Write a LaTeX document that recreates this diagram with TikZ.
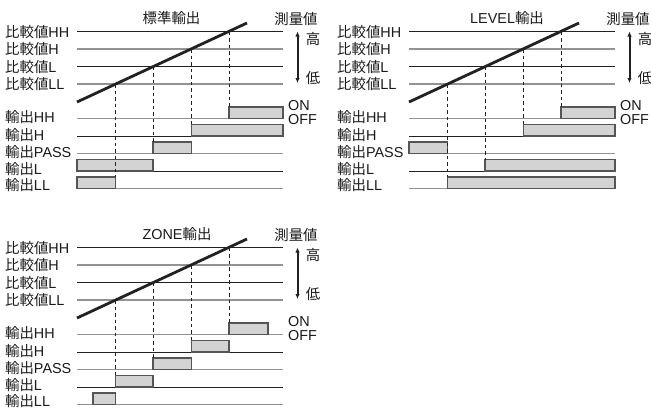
\documentclass[tikz,border=0pt]{standalone}
\usepackage{fontspec}
\setmainfont{Liberation Sans}
\newfontfamily\cjkfont{Noto Sans CJK JP}
\newcommand\cj[1]{{\cjkfont #1}}
\usetikzlibrary{arrows.meta}
\definecolor{lineblk}{HTML}{222222}
\definecolor{linegry}{HTML}{939393}
\definecolor{boxfill}{HTML}{D3D3D3}
\definecolor{boxedge}{HTML}{555555}
\definecolor{txt}{HTML}{1A1A1A}
\tikzset{
  lbl/.style={anchor=west, inner sep=0pt, font=\fontsize{14.4}{14.4}\selectfont, text=txt},
  ttl/.style={inner sep=0pt, font=\fontsize{14.4}{14.4}\selectfont, text=txt},
  blk/.style={draw=lineblk, line width=0.9pt},
  gry/.style={draw=linegry, line width=1.4pt},
  meas/.style={draw=lineblk, line width=2.8pt},
  guide/.style={draw=lineblk, dash pattern=on 3.5pt off 3pt, line width=0.9pt},
  sig/.style={fill=boxfill, draw=boxedge, line width=1.1pt},
  updown/.style={{Latex[length=5pt,width=4.5pt]}-{Latex[length=5pt,width=4.5pt]}, line width=2pt, draw=lineblk},
}
% #1 prefix, #2 x shift, #3 y shift, #4 title x, #5 title
\newcommand\panel[5]{%
\begin{scope}[shift={(#2,#3)}]
  \node[ttl] (#1-title) at (#4,18) {#5};
  \node[ttl] (#1-meas) at (296,19.5) {\cj{測量値}};
  \node[ttl] (#1-hi) at (313,39) {\cj{高}};
  \node[ttl] (#1-lo) at (313,78.5) {\cj{低}};
  \coordinate (#1-at) at (297.5,31.5);
  \coordinate (#1-ab) at (297.5,83);
  \draw[updown] (#1-at) -- (#1-ab);
  \node[lbl] (#1-on) at (288,105.5) {ON};
  \node[lbl] (#1-off) at (288,119.5) {OFF};
  % comparison levels
  \node[lbl] (#1-lcHH) at (5,32) {\cj{比較値}HH};
  \node[lbl] (#1-lcH)  at (5,49.5) {\cj{比較値}H};
  \node[lbl] (#1-lcL)  at (5,67) {\cj{比較値}L};
  \node[lbl] (#1-lcLL) at (5,84.5) {\cj{比較値}LL};
  \coordinate (#1-cHHa) at (77,31.5); \coordinate (#1-cHHb) at (283,31.5);
  \coordinate (#1-cHa) at (77,49);    \coordinate (#1-cHb) at (283,49);
  \coordinate (#1-cLa) at (77,66.5);  \coordinate (#1-cLb) at (283,66.5);
  \coordinate (#1-cLLa) at (77,84);   \coordinate (#1-cLLb) at (283,84);
  \draw[blk] (#1-cHHa) -- (#1-cHHb);
  \draw[gry] (#1-cHa) -- (#1-cHb);
  \draw[blk] (#1-cLa) -- (#1-cLb);
  \draw[gry] (#1-cLLa) -- (#1-cLLb);
  % outputs
  \node[lbl] (#1-loHH) at (5,117.5) {\cj{輸出}HH};
  \node[lbl] (#1-loH)  at (5,135) {\cj{輸出}H};
  \node[lbl] (#1-loP)  at (5,152.5) {\cj{輸出}PASS};
  \node[lbl] (#1-loL)  at (5,169.5) {\cj{輸出}L};
  \node[lbl] (#1-loLL) at (5,185.5) {\cj{輸出}LL};
  \coordinate (#1-oHHa) at (77,118.5); \coordinate (#1-oHHb) at (283,118.5);
  \coordinate (#1-oHa) at (77,136);    \coordinate (#1-oHb) at (283,136);
  \coordinate (#1-oPa) at (77,153.5);  \coordinate (#1-oPb) at (283,153.5);
  \coordinate (#1-oLa) at (77,171);    \coordinate (#1-oLb) at (283,171);
  \coordinate (#1-oLLa) at (77,188.5); \coordinate (#1-oLLb) at (283,188.5);
  \draw[gry] (#1-oHHa) -- (#1-oHHb);
  \draw[blk] (#1-oHa) -- (#1-oHb);
  \draw[gry] (#1-oPa) -- (#1-oPb);
  \draw[blk] (#1-oLa) -- (#1-oLb);
  \draw[gry] (#1-oLLa) -- (#1-oLLb);
  % crossing points of the measured value
  \coordinate (#1-x1) at (115.5,84);
  \coordinate (#1-x2) at (153,66.5);
  \coordinate (#1-x3) at (191.5,49);
  \coordinate (#1-x4) at (229,31.5);
  \coordinate (#1-ms) at (77,102);
  \coordinate (#1-me) at (247,23);
\end{scope}}
\begin{document}
\begin{tikzpicture}[x=1pt,y=-1pt]
\useasboundingbox (0,0) rectangle (651,410);
\fill[white] (0,0) rectangle (651,410);

% ---------- standard output ----------
\panel{p1}{0}{0}{171.5}{\cj{標準輸出}}
\begin{scope}
  \draw[sig] (229,118.5) rectangle (283,107);
  \draw[sig] (191.5,136) rectangle (283,124.5);
  \draw[sig] (153,153.5) rectangle (191.5,142);
  \draw[sig] (77,171) rectangle (153,159.5);
  \draw[sig] (77,188.5) rectangle (115.5,177);
  \coordinate (p1-y1) at (115.5,177);
  \coordinate (p1-y2) at (153,142);
  \coordinate (p1-y3) at (191.5,124.5);
  \coordinate (p1-y4) at (229,107);
  \draw[guide] (p1-x1) -- (p1-y1);
  \draw[guide] (p1-x2) -- (p1-y2);
  \draw[guide] (p1-x3) -- (p1-y3);
  \draw[guide] (p1-x4) -- (p1-y4);
  \draw[meas] (p1-ms) -- (p1-me);
\end{scope}

% ---------- LEVEL output ----------
\panel{p2}{332}{0}{175}{LEVEL\cj{輸出}}
\begin{scope}[shift={(332,0)}]
  \draw[sig] (229,118.5) rectangle (283,107);
  \draw[sig] (191.5,136) rectangle (283,124.5);
  \draw[sig] (77,153.5) rectangle (115.5,142);
  \draw[sig] (153,171) rectangle (283,159.5);
  \draw[sig] (115.5,188.5) rectangle (283,177);
  \coordinate (p2-y1) at (115.5,177);
  \coordinate (p2-y2) at (153,159.5);
  \coordinate (p2-y3) at (191.5,124.5);
  \coordinate (p2-y4) at (229,107);
\end{scope}
\draw[guide] (p2-x1) -- (p2-y1);
\draw[guide] (p2-x2) -- (p2-y2);
\draw[guide] (p2-x3) -- (p2-y3);
\draw[guide] (p2-x4) -- (p2-y4);
\draw[meas] (p2-ms) -- (p2-me);

% ---------- ZONE output ----------
\panel{p3}{0}{216}{177}{ZONE\cj{輸出}}
\begin{scope}[shift={(0,216)}]
  \draw[sig] (229,118.5) rectangle (268,107);
  \draw[sig] (191.5,136) rectangle (229,124.5);
  \draw[sig] (153,153.5) rectangle (191.5,142);
  \draw[sig] (115.5,171) rectangle (153,159.5);
  \draw[sig] (93,188.5) rectangle (115.5,177);
  \coordinate (p3-y1) at (115.5,159.5);
  \coordinate (p3-y2) at (153,142);
  \coordinate (p3-y3) at (191.5,124.5);
  \coordinate (p3-y4) at (229,107);
\end{scope}
\draw[guide] (p3-x1) -- (p3-y1);
\draw[guide] (p3-x2) -- (p3-y2);
\draw[guide] (p3-x3) -- (p3-y3);
\draw[guide] (p3-x4) -- (p3-y4);
\draw[meas] (p3-ms) -- (p3-me);
\end{tikzpicture}
\end{document}
